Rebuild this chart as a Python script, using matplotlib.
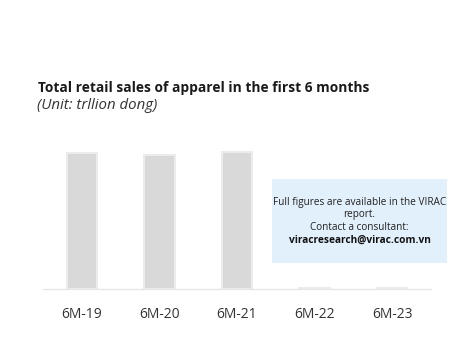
import matplotlib
matplotlib.use("Agg")
import matplotlib.pyplot as plt
from matplotlib.patches import FancyBboxPatch

categories = ["6M-19", "6M-20", "6M-21", "6M-22", "6M-23"]
values = [100, 98.5, 101, 0.4, 0.8]

W, H = 474, 355
fig = plt.figure(figsize=(W/100, H/100), dpi=100)
fig.patch.set_facecolor("white")

def fx(px): return px / W
def fy(py): return 1 - py / H

FONT = "Open Sans"

ax = fig.add_axes([fx(43), fy(289), fx(431) - fx(43), (289 - 140) / H])
ax.bar(range(len(categories)), values, width=0.39, color="#d9d9d9",
       edgecolor="#ececec", linewidth=1.5, zorder=2)
ax.set_xlim(-0.5, 4.5)
ax.set_ylim(0, 101 / (137 / 149))
ax.set_xticks(range(len(categories)))
ax.set_xticklabels(categories, fontsize=10, color="#333333", family=FONT)
ax.tick_params(axis="x", length=0, pad=13)
ax.set_yticks([])
for s in ["top", "right", "left"]:
    ax.spines[s].set_visible(False)
ax.spines["bottom"].set_color("#e6e6e6")
ax.spines["bottom"].set_linewidth(1.0)

fig.text(fx(38), fy(88), "Total retail sales of apparel in the first 6 months",
         fontsize=9.9, fontweight="bold", color="#1a1a1a", family=FONT,
         va="center", ha="left")
fig.text(fx(37), fy(105), "(Unit: trllion dong)", fontsize=10.8, style="italic",
         color="#333333", family=FONT, va="center", ha="left")

box = FancyBboxPatch((fx(272), fy(263)), fx(447) - fx(272), (263 - 179) / H,
                     boxstyle="square,pad=0", transform=fig.transFigure,
                     facecolor="#e2f0fb", edgecolor="none", zorder=5)
fig.patches.append(box)
cx = fx(359.5)
fig.text(cx, fy(203), "Full figures are available in the VIRAC", fontsize=7.2,
         color="#222222", ha="center", va="center", family=FONT, zorder=6)
fig.text(cx, fy(215), "report.", fontsize=7.2,
         color="#222222", ha="center", va="center", family=FONT, zorder=6)
fig.text(cx, fy(227), "Contact a consultant:", fontsize=7.2,
         color="#222222", ha="center", va="center", family=FONT, zorder=6)
fig.text(cx, fy(240), "viracresearch@virac.com.vn", fontsize=7.3, fontweight="bold",
         color="#111111", ha="center", va="center", family=FONT, zorder=6)

fig.savefig("out.png", dpi=100)
